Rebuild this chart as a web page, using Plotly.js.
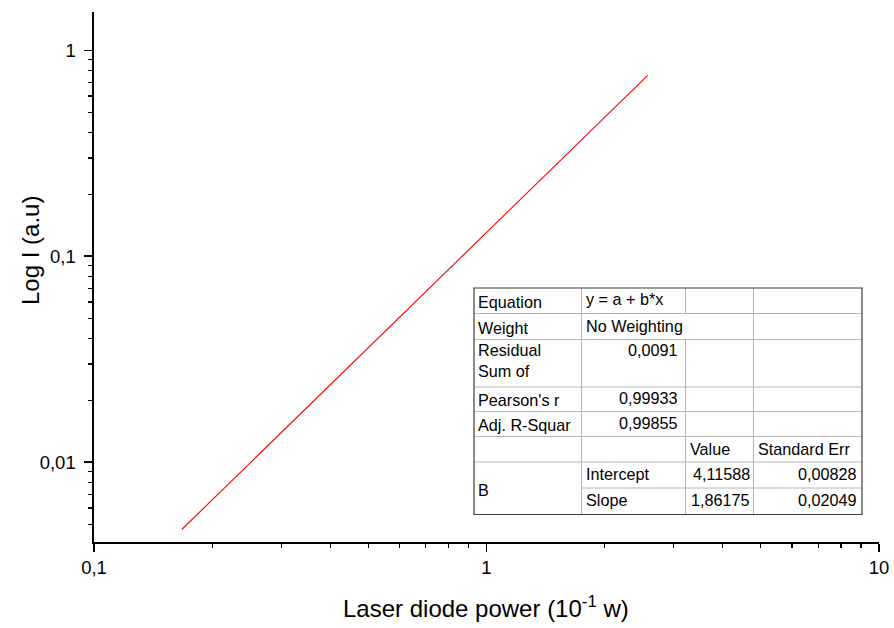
<!DOCTYPE html>
<html>
<head>
<meta charset="utf-8">
<script src="https://cdn.plot.ly/plotly-3.0.1.min.js"></script>
<style>html,body{margin:0;padding:0;background:#fff;}#chart{width:894px;height:628px;}</style>
</head>
<body>
<div id="chart"></div>
<script>
// ---- data ----
const powerX = [0.1676, 2.575];          // Laser diode power (10^-1 W)
const intensityY = [0.00473, 0.756];     // Log I (a.u)

const xTickVals = [0.1, 1, 10];
const xTickText = ['0,1', '1', '10'];
const yTickVals = [0.01, 0.1, 1];
const yTickText = ['0,01', '0,1', '1'];

const xTitle = 'Laser diode power (10<sup>-1</sup> w)';
const yTitle = 'Log I (a.u)';

// fit-report table
const tableLabels = ['Equation', 'Weight', 'Residual<br>Sum of', "Pearson's r", 'Adj. R-Squar'];
const tableValues = ['y = a + b*x', 'No Weighting', '0,0091', '0,99933', '0,99855'];
const paramHeader = ['Value', 'Standard Err'];
const paramGroup = 'B';
const paramNames = ['Intercept', 'Slope'];
const paramValues = ['4,11588', '1,86175'];
const paramErrors = ['0,00828', '0,02049'];

// ---- geometry helpers (pixel -> paper) ----
const L = 94, T = 12, W = 785, H = 530;
const px = v => (v - L) / W;
const py = v => (T + H - v) / H;

const colX = [474, 581.5, 685.5, 753.5, 862];
const rowY = [288, 313.5, 339.5, 387, 411.5, 436.5, 462, 488, 514.5];

const shapes = [];
const inner = '#b4b4b4';
function hline(x0, x1, y, c, w) {
  shapes.push({type: 'line', xref: 'paper', yref: 'paper', x0: px(x0), x1: px(x1), y0: py(y), y1: py(y), line: {color: c, width: w}});
}
function vline(x, y0, y1, c, w) {
  shapes.push({type: 'line', xref: 'paper', yref: 'paper', x0: px(x), x1: px(x), y0: py(y0), y1: py(y1), line: {color: c, width: w}});
}
shapes.push({type: 'rect', xref: 'paper', yref: 'paper', x0: px(colX[0]), x1: px(colX[4]), y0: py(rowY[0]), y1: py(rowY[8]), fillcolor: '#ffffff', line: {width: 0}, layer: 'above'});
for (let i = 1; i < rowY.length - 1; i++) {
  if (i === 7) hline(colX[1], colX[4], rowY[i], inner, 1);
  else hline(colX[0], colX[4], rowY[i], inner, 1);
}
vline(colX[1], rowY[0], rowY[8], inner, 1);
vline(colX[2], rowY[0], rowY[1], inner, 1);
vline(colX[2], rowY[2], rowY[8], inner, 1);
vline(colX[3], rowY[0], rowY[8], inner, 1);
shapes.push({type: 'rect', xref: 'paper', yref: 'paper', x0: px(colX[0]), x1: px(colX[4]), y0: py(rowY[0]), y1: py(rowY[8]), line: {color: '#3c3c3c', width: 1.2}, fillcolor: 'rgba(0,0,0,0)', layer: 'above'});

const fontFam = 'Liberation Sans, Arial, sans-serif';
const annFont = {family: fontFam, size: 16.2, color: '#000'};
const annotations = [];
function txt(t, x, y, xa, ya) {
  annotations.push({text: t, xref: 'paper', yref: 'paper', x: px(x), y: py(y), xanchor: xa, yanchor: ya, showarrow: false, font: annFont, align: 'left', borderpad: 0});
}
const rowMid = i => (rowY[i] + rowY[i + 1]) / 2;
for (let i = 0; i < tableLabels.length; i++) {
  if (i === 2) txt(tableLabels[i], colX[0] + 3, rowY[i] + 1, 'left', 'top');
  else txt(tableLabels[i], colX[0] + 3, rowMid(i) + 1, 'left', 'middle');
}
txt(tableValues[0], colX[1] + 3, rowMid(0) - 2, 'left', 'middle');
txt(tableValues[1], colX[1] + 3, rowMid(1), 'left', 'middle');
txt(tableValues[2], colX[2] - 7, rowY[2] + 1, 'right', 'top');
txt(tableValues[3], colX[2] - 7, rowMid(3) - 1, 'right', 'middle');
txt(tableValues[4], colX[2] - 7, rowMid(4) - 1, 'right', 'middle');
txt(paramHeader[0], colX[2] + 3, rowMid(5), 'left', 'middle');
txt(paramHeader[1], colX[3] + 3, rowMid(5), 'left', 'middle');
txt(paramGroup, colX[0] + 3, rowY[7] + 2, 'left', 'middle');
for (let k = 0; k < paramNames.length; k++) {
  const r = 6 + k;
  txt(paramNames[k], colX[1] + 3, rowMid(r) - 1, 'left', 'middle');
  txt(paramValues[k], colX[3] - 3, rowMid(r) - 1, 'right', 'middle');
  txt(paramErrors[k], colX[4] - 4, rowMid(r) - 1, 'right', 'middle');
}
// axis titles placed as annotations
annotations.push({text: xTitle, xref: 'paper', yref: 'paper', x: px(486), y: py(607), xanchor: 'center', yanchor: 'middle', showarrow: false, font: {family: fontFam, size: 24, color: '#000'}});
annotations.push({text: yTitle, xref: 'paper', yref: 'paper', x: px(30), y: py(251), xanchor: 'center', yanchor: 'middle', textangle: -90, showarrow: false, font: {family: fontFam, size: 24, color: '#000'}});

const axisCommon = {
  type: 'log', showgrid: false, zeroline: false, showline: true, linecolor: '#000', linewidth: 1.6,
  ticks: 'outside', ticklen: 8, tickwidth: 1.6, tickcolor: '#000', mirror: false,
  tickfont: {family: fontFam, size: 18.5, color: '#000'},
  minor: {ticks: 'outside', ticklen: 4.5, tickwidth: 1.3, tickcolor: '#000', dtick: 'D1', showgrid: false}
};

const data = [{
  x: powerX, y: intensityY, type: 'scatter', mode: 'lines',
  line: {color: '#ff0000', width: 1.1}, hoverinfo: 'skip', showlegend: false
}];

const layout = {
  width: 894, height: 628,
  margin: {l: L, r: 894 - L - W, t: T, b: 628 - T - H},
  paper_bgcolor: '#fff', plot_bgcolor: '#fff',
  separators: ', ',
  showlegend: false,
  xaxis: Object.assign({}, axisCommon, {range: [-1, 1], tickvals: xTickVals, ticktext: xTickText}),
  yaxis: Object.assign({}, axisCommon, {range: [-2.387, 0.186], tickvals: yTickVals, ticktext: yTickText, ticklabelstandoff: 5}),
  shapes: shapes,
  annotations: annotations
};

Plotly.newPlot('chart', data, layout, {displayModeBar: false, staticPlot: true});
</script>
</body>
</html>
